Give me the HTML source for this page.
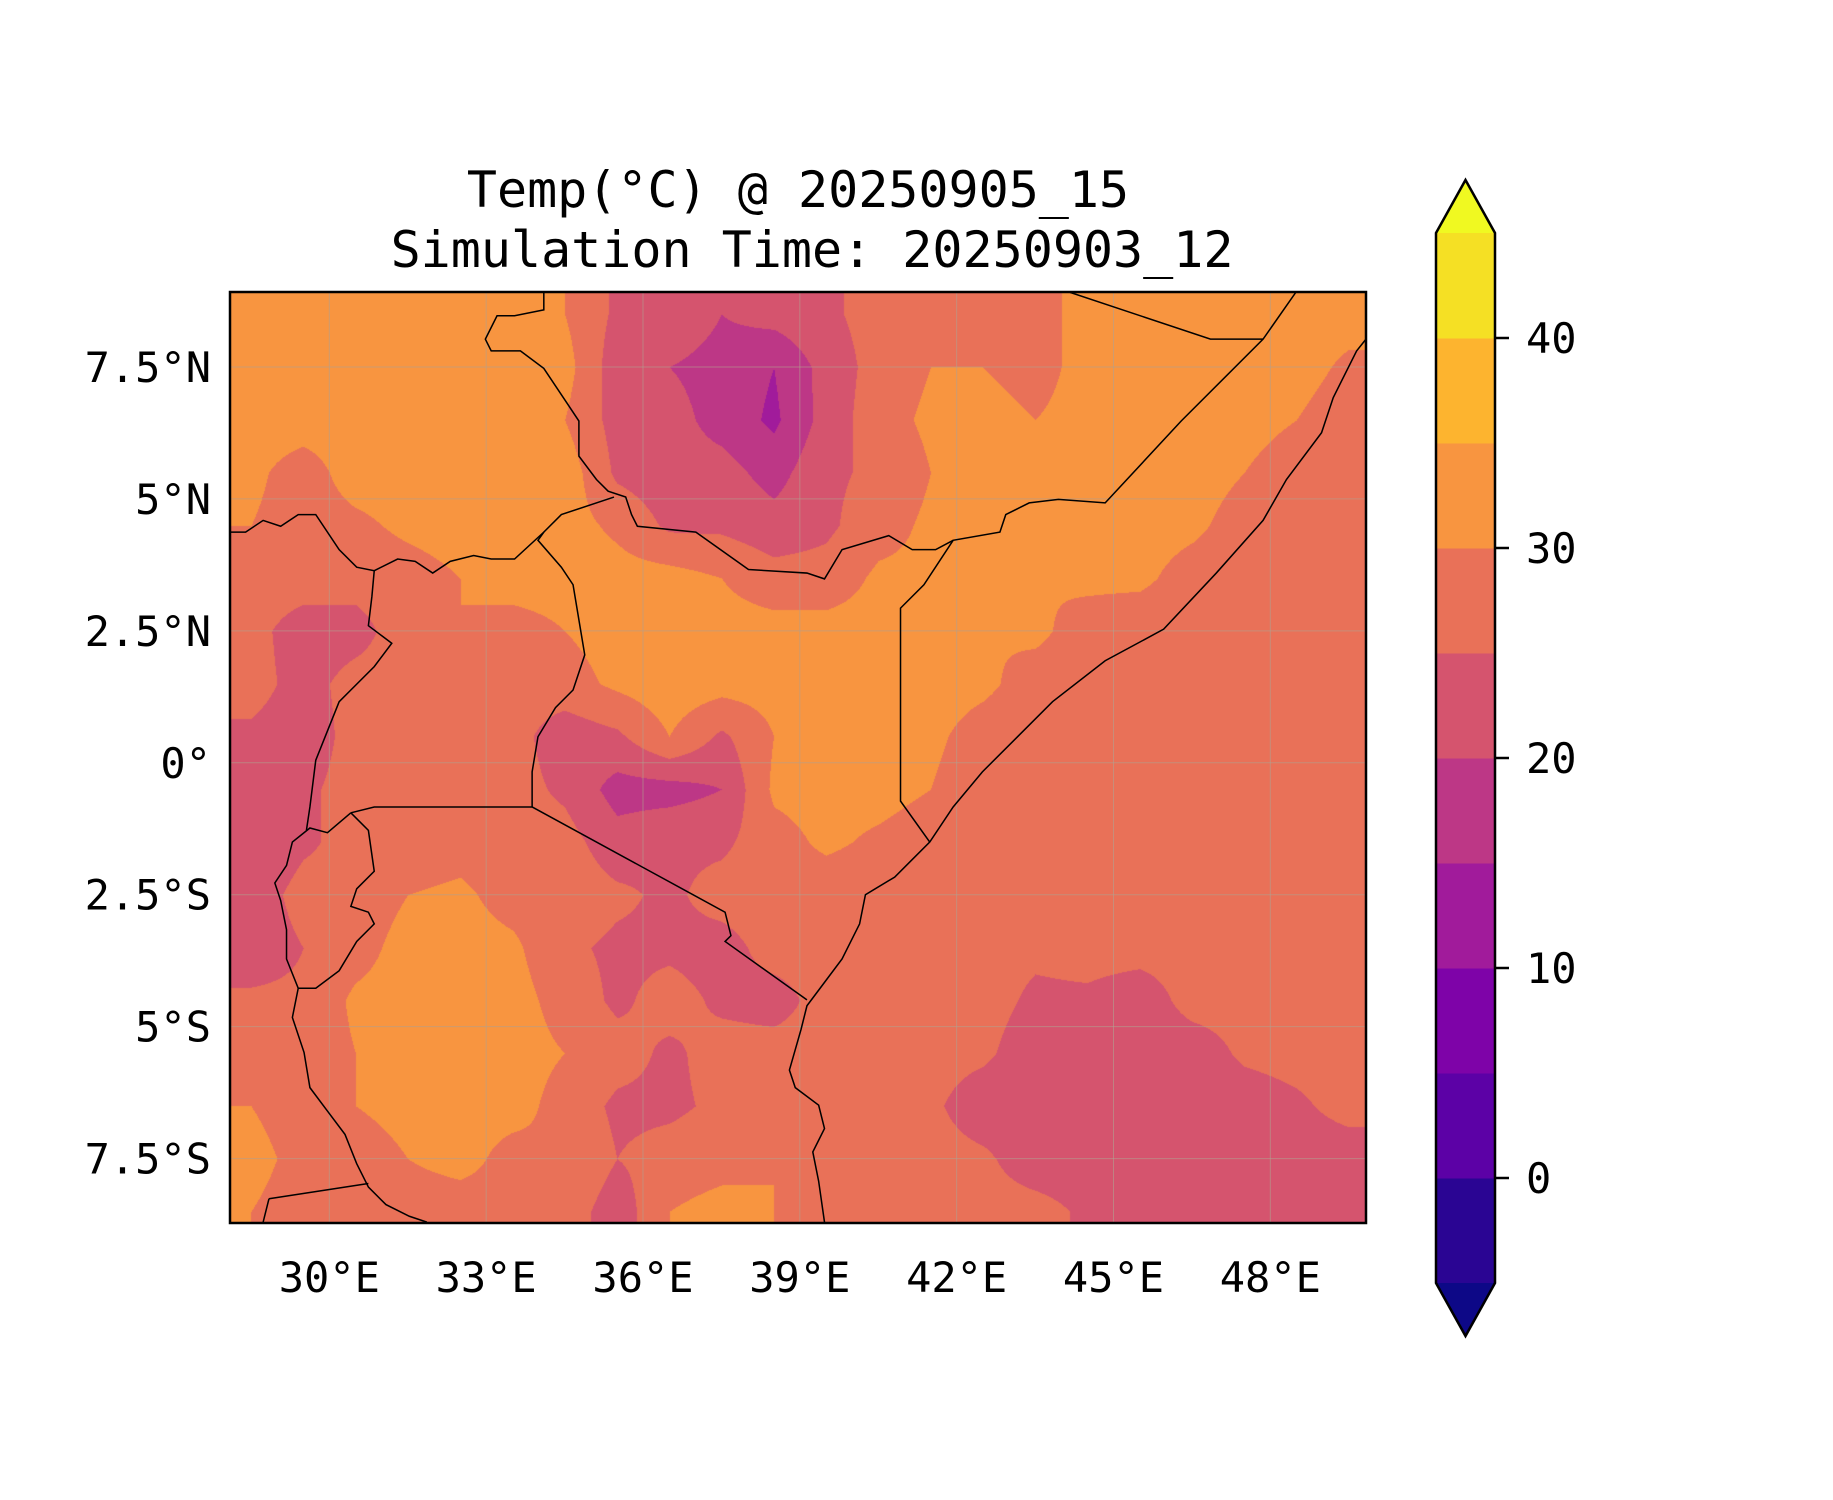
<!DOCTYPE html>
<html><head><meta charset="utf-8"><style>
html,body{margin:0;padding:0;background:#fff;}
#wrap{position:relative;width:1833px;height:1500px;overflow:hidden;}
canvas{position:absolute;left:230px;top:292px;}
svg{position:absolute;left:0;top:0;}
text{font-family:"DejaVu Sans Mono","Liberation Mono",monospace;fill:#000;}
</style></head><body>
<div id="wrap">
<canvas id="map" width="1136" height="931"></canvas>
<svg id="ov" width="1833" height="1500">
<defs><clipPath id="mapclip"><rect x="230" y="292" width="1136" height="931"/></clipPath></defs>
<text x="798" y="207" font-size="50" text-anchor="middle">Temp(°C) @ 20250905_15</text>
<text x="812" y="267" font-size="50" text-anchor="middle">Simulation Time: 20250903_12</text>
<g id="grid"></g>
<g clip-path="url(#mapclip)"><g id="borders" transform="scale(1.1695)" fill="none" stroke="#000" stroke-width="1.3"></g></g>
<rect x="230" y="292" width="1136" height="931" fill="none" stroke="#000" stroke-width="2.5"/>
<g id="xt"></g>
<g id="yt"></g>
<g id="cb"></g>
</svg>
</div>
<script>
const lons=[28.5,29.5,30.5,31.5,32.5,33.5,34.5,35.5,36.5,37.5,38.5,39.5,40.5,41.5,42.5,43.5,44.5,45.5,46.5,47.5,48.5,49.5];
const lats=[8.5,7.5,6.5,5.5,4.5,3.5,2.5,1.5,0.5,-0.5,-1.5,-2.5,-3.5,-4.5,-5.5,-6.5,-7.5,-8.5];
const temps=[
[32,32,32,32,32,32,30,24,24,20,22,24,27,28,28,28,32,32,32,32,32,32],
[32,32,32,32,32,32,32,22,20,18,15,22,27,30,30,28,32,32,32,32,32,29],
[32,32,32,32,32,33,30,23,22,18,14,22,28,31,32,30,32,32,32,32,30,27],
[31,28,32,32,32,34,33,24,22,22,18,24,26,30,30,31,32,32,32,30,27,27],
[30,28,29,31,32,32,32,29,24,24,22,24,28,31,30,31,32,32,31,28,27,27],
[28,28,27,28,30,32,32,32,32,30,27,27,31,31,32,30,31,31,28,27,27,27],
[27,22,23,28,30,28,30,32,32,32,32,32,32,32,30,31,28,27,27,27,27,27],
[27,23,27,27,28,27,28,31,33,32,32,32,32,32,31,28,27,27,27,27,27,27],
[24,22,27,27,27,27,22,24,30,24,30,32,32,31,28,27,27,27,27,27,27,27],
[22,24,27,27,27,27,24,18,18,20,31,32,32,30,27,27,27,27,27,27,27,27],
[20,24,27,27,28,27,27,22,24,24,28,31,29,27,27,27,27,27,27,27,27,27],
[22,27,27,30,31,28,28,26,24,27,28,27,27,27,27,27,27,27,27,27,27,27],
[22,25,28,32,32,31,26,24,24,23,27,27,27,27,27,26,27,27,27,27,27,27],
[26,26,31,32,32,32,28,24,27,24,23,27,27,27,27,24,24,22,27,27,27,27],
[28,27,30,32,32,32,30,27,24,27,27,27,27,27,26,22,22,22,22,26,27,27],
[30,27,30,32,32,32,28,24,24,26,30,27,27,26,22,22,22,22,22,22,24,27],
[32,28,27,30,32,28,30,25,27,28,30,27,27,27,26,22,22,22,22,22,22,22],
[30,27,28,27,27,28,28,22,30,32,30,27,27,27,27,27,24,22,22,22,22,22]];
const levels=[-5,0,5,10,15,20,25,30,35,40,45];
const bandColors=['#2a0593','#5c01a6','#7e03a8','#a11b9b','#bd3786','#d5546e','#e97158','#f89540','#fdb42f','#f5e024'];
const underColor='#0d0887', overColor='#f0f921';
const xTicks=[30,33,36,39,42,45,48];
const yTicks=[7.5,5,2.5,0,-2.5,-5,-7.5];
const yTickLabels=['7.5°N','5°N','2.5°N','0°','2.5°S','5°S','7.5°S'];
const cbTicks=[0,10,20,30,40];

const X0=230,X1=1366,Y0=292,Y1=1223,LON0=28.1,LON1=49.83,LAT0=8.92,LAT1=-8.72;
const sx=lon=>X0+(lon-LON0)/(LON1-LON0)*(X1-X0);
const sy=lat=>Y0+(LAT0-lat)/(LAT0-LAT1)*(Y1-Y0);
const CB_X=1436,CB_W=59,CB_T=233,CB_B=1283;
const cy=v=>CB_B-(v-levels[0])/(levels[levels.length-1]-levels[0])*(CB_B-CB_T);
const NS='http://www.w3.org/2000/svg';
function mk(tag,attrs,parent){const e=document.createElementNS(NS,tag);for(const k in attrs)e.setAttribute(k,attrs[k]);parent.appendChild(e);return e;}

// field
const cv=document.getElementById('map'),ctx=cv.getContext('2d');
const W=cv.width,H=cv.height,img=ctx.createImageData(W,H);
const rgb=bandColors.map(c=>[parseInt(c.substr(1,2),16),parseInt(c.substr(3,2),16),parseInt(c.substr(5,2),16)]);
function interp(lon,lat){
  let fx=(lon-lons[0])/(lons[1]-lons[0]);fx=Math.max(0,Math.min(lons.length-1.0001,fx));
  let fy=(lats[0]-lat)/(lats[0]-lats[1]);fy=Math.max(0,Math.min(lats.length-1.0001,fy));
  const i=Math.floor(fx),j=Math.floor(fy),tx=fx-i,ty=fy-j;
  const a=temps[j][i],b=temps[j][i+1],c=temps[j+1][i],d=temps[j+1][i+1];
  return a*(1-tx)*(1-ty)+b*tx*(1-ty)+c*(1-tx)*ty+d*tx*ty;
}
for(let py=0;py<H;py++){const lat=LAT0-(py/H)*(LAT0-LAT1);
  for(let px=0;px<W;px++){const lon=LON0+(px/W)*(LON1-LON0);
    const v=interp(lon,lat);let k=0;for(let i=0;i<levels.length-1;i++)if(v>=levels[i])k=i;
    const c=rgb[k],o=(py*W+px)*4;img.data[o]=c[0];img.data[o+1]=c[1];img.data[o+2]=c[2];img.data[o+3]=255;}}
ctx.putImageData(img,0,0);

// gridlines
const g=document.getElementById('grid');
xTicks.forEach(t=>{const l=mk('line',{x1:sx(t),x2:sx(t),y1:Y0,y2:Y1,stroke:'#b0a090','stroke-width':1,'stroke-opacity':0.6},g);

});
yTicks.forEach(t=>{const l=mk('line',{x1:X0,x2:X1,y1:sy(t),y2:sy(t),stroke:'#b0a090','stroke-width':1,'stroke-opacity':0.6},g);

});

// borders (traced outlines, reference-display units)
const borderLines=[
"1168,290 1160,300 1140,340 1130,370 1100,410 1080,445 1040,490 995,538 945,565 900,600 870,630 840,660 815,690 795,720 780,735 765,750 740,765 735,790 720,820 705,840 690,860 685,880 675,915 680,930 700,945 705,965 695,985 700,1010 705,1045",
"795,720 770,685 770,520 790,500 815,462 855,455 860,440 880,430 905,427 945,430 1010,360 1080,290 1108,250",
"815,462 800,470 780,470 760,458 720,470 705,495 690,490 640,487 595,455 545,450 540,440 535,425 520,420 510,410 495,390 495,360 485,345 465,315 445,300 420,300 415,290 425,270 440,270 465,265 465,250",
"915,250 1035,290 1080,290",
"525,425 480,440 465,455 460,462 480,485 490,500 495,530 500,560 490,590 475,605 460,630 455,660 455,690",
"455,690 620,780 625,800 620,805 690,855",
"455,690 320,690 300,695",
"465,455 440,478 420,478 405,475 385,480 370,490 355,480 340,478 320,488 305,485 290,470 270,440 255,440 240,450 225,445 210,455 196,455",
"320,488 318,510 315,535 335,550 320,570 300,590 290,600 280,625 270,650 265,690 262,710",
"300,695 315,710 320,745 305,760 300,775 315,780 320,790 305,805 290,830 270,845 255,845 245,820 245,795 240,770 235,755 245,740 250,720 265,708 280,712 300,695",
"255,845 250,870 260,900 265,930 280,950 295,970 305,995 315,1015 330,1030 350,1040 365,1045",
"230,1025 315,1012",
"230,1025 225,1045"];
const bg=document.getElementById('borders');
borderLines.forEach(p=>{const e=mk('polyline',{points:p},bg);

});

// axis labels
const xt=document.getElementById('xt');
xTicks.forEach(t=>{const e=mk('text',{x:sx(t),y:1292,'font-size':42,'text-anchor':'middle'},xt);e.textContent=t+'°E';

});
const yt=document.getElementById('yt');
yTicks.forEach((t,i)=>{const e=mk('text',{x:211,y:sy(t)+15,'font-size':42,'text-anchor':'end'},yt);e.textContent=yTickLabels[i];

});

// colorbar
const cb=document.getElementById('cb');
for(let i=0;i<bandColors.length;i++){const r=mk('rect',{x:CB_X,y:cy(levels[i+1]),width:CB_W,height:cy(levels[i])-cy(levels[i+1])+0.5,fill:bandColors[i]},cb);

}
const cbTop=mk('polygon',{points:`${CB_X},${CB_T} ${CB_X+CB_W/2},${CB_T-53} ${CB_X+CB_W},${CB_T}`,fill:overColor},cb);


const cbBot=mk('polygon',{points:`${CB_X},${CB_B} ${CB_X+CB_W/2},${CB_B+53} ${CB_X+CB_W},${CB_B}`,fill:underColor},cb);


const outline=mk('polygon',{points:`${CB_X},${CB_T} ${CB_X+CB_W/2},${CB_T-53} ${CB_X+CB_W},${CB_T} ${CB_X+CB_W},${CB_B} ${CB_X+CB_W/2},${CB_B+53} ${CB_X},${CB_B}`,fill:'none',stroke:'#000','stroke-width':2.5},cb);


cbTicks.forEach(t=>{const l=mk('line',{x1:CB_X+CB_W,x2:CB_X+CB_W+14,y1:cy(t),y2:cy(t),stroke:'#000','stroke-width':2.5},cb);


const e=mk('text',{x:1526,y:cy(t)+15,'font-size':42},cb);e.textContent=t;

});
</script>
</body></html>
